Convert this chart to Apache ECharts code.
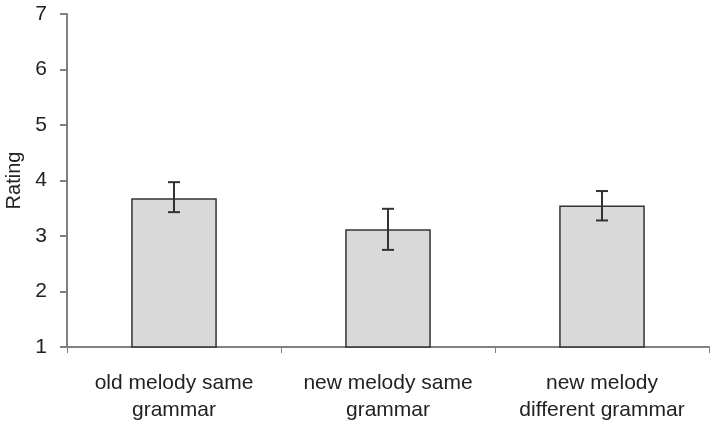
<!DOCTYPE html>
<html>
<head>
<meta charset="utf-8">
<script src="https://cdn.jsdelivr.net/npm/echarts@6/dist/echarts.min.js"></script>
<style>
  html, body { margin: 0; padding: 0; background: #fff; }
  #chart { width: 716px; height: 432px; }
</style>
</head>
<body>
<div id="chart"></div>
<script>
var categories = ["old melody same\ngrammar", "new melody same\ngrammar", "new melody\ndifferent grammar"];
var ratings = [3.68, 3.12, 3.55];
var errLow = [3.43, 2.75, 3.28];
var errHigh = [3.97, 3.49, 3.81];
var yTicks = [1, 2, 3, 4, 5, 6, 7];

var myChart = echarts.init(document.getElementById("chart"));

var errData = categories.map(function (c, i) {
  return [i, errLow[i], errHigh[i]];
});

var font = "Liberation Sans, Arial, sans-serif";

var option = {
  backgroundColor: "#ffffff",
  animation: false,
  grid: { left: 67, right: 7, top: 14, bottom: 85, outerBoundsMode: "none", containLabel: false },
  xAxis: {
    type: "category",
    data: categories,
    axisLine: { lineStyle: { color: "#808080", width: 2 } },
    axisTick: { show: true, interval: 0, length: 6, lineStyle: { color: "#808080", width: 1 } },
    axisLabel: {
      interval: 0,
      hideOverlap: false,
      color: "#222",
      fontSize: 21,
      fontFamily: font,
      lineHeight: 27,
      margin: 23
    },
    splitLine: { show: false }
  },
  yAxis: {
    type: "value",
    min: yTicks[0],
    max: yTicks[yTicks.length - 1],
    interval: 1,
    name: "Rating",
    nameLocation: "middle",
    nameGap: 38,
    nameTextStyle: { color: "#222", fontSize: 20, fontFamily: font },
    axisLine: { show: true, lineStyle: { color: "#808080", width: 2 } },
    axisTick: { show: true, length: 7, lineStyle: { color: "#808080", width: 2 } },
    axisLabel: {
      color: "#222",
      fontSize: 21,
      fontFamily: font,
      margin: 20
    },
    splitLine: { show: false }
  },
  series: [
    {
      type: "bar",
      data: ratings,
      barWidth: "40%",
      itemStyle: {
        color: "#d9d9d9",
        borderColor: "#333",
        borderWidth: 1.5
      }
    },
    {
      type: "custom",
      data: errData,
      z: 10,
      renderItem: function (params, api) {
        var x = api.value(0);
        var top = api.coord([x, api.value(2)]);
        var bot = api.coord([x, api.value(1)]);
        var hw = 6;
        var style = { stroke: "#333", lineWidth: 2 };
        return {
          type: "group",
          children: [
            { type: "line", shape: { x1: top[0], y1: top[1], x2: bot[0], y2: bot[1] }, style: style },
            { type: "line", shape: { x1: top[0] - hw, y1: top[1], x2: top[0] + hw, y2: top[1] }, style: style },
            { type: "line", shape: { x1: bot[0] - hw, y1: bot[1], x2: bot[0] + hw, y2: bot[1] }, style: style }
          ]
        };
      }
    }
  ]
};

myChart.setOption(option);
</script>
</body>
</html>
